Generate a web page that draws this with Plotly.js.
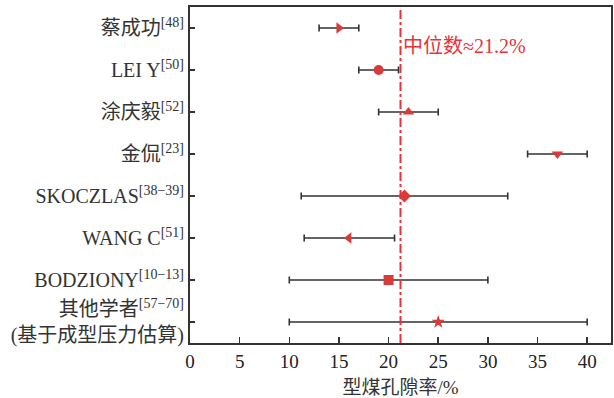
<!DOCTYPE html>
<html>
<head>
<meta charset="utf-8">
<script src="https://cdn.plot.ly/plotly-3.0.1.min.js"></script>
<style>
  html, body { margin: 0; padding: 0; background: #fff; }
  #chart { width: 614px; height: 398px; }
</style>
</head>
<body>
<div id="chart"></div>
<script>
// Study labels (top to bottom)
const studies = [
  '蔡成功<sup>[48]</sup>',
  'LEI Y<sup>[50]</sup>',
  '涂庆毅<sup>[52]</sup>',
  '金侃<sup>[23]</sup>',
  'SKOCZLAS<sup>[38−39]</sup>',
  'WANG C<sup>[51]</sup>',
  'BODZIONY<sup>[10−13]</sup>',
  '其他学者<sup>[57−70]</sup><br>(基于成型压力估算)'
];
// Representative porosity (%) and reported range
const porosity = [15, 19, 22, 37, 21.6, 16, 20, 25];
const rangeLow = [13, 17, 19, 34, 11.2, 11.5, 10, 10];
const rangeHigh = [17, 21, 25, 40, 32, 20.6, 30, 40];
const symbols = ['triangle-right', 'circle', 'triangle-up', 'triangle-down',
                 'diamond', 'triangle-left', 'square', 'star'];
const median = 21.2;
const xTicks = [0, 5, 10, 15, 20, 25, 30, 35, 40];

const rows = studies.map((_, i) => i);
const errPlus = porosity.map((v, i) => rangeHigh[i] - v);
const errMinus = porosity.map((v, i) => v - rangeLow[i]);

const FONT = '"Liberation Serif", "Times New Roman", "Noto Sans CJK SC", serif';
const RED = '#d93a3a';

const trace = {
  type: 'scatter',
  mode: 'markers',
  x: porosity,
  y: rows,
  marker: { symbol: symbols, size: 10, color: RED, line: { width: 0 } },
  error_x: {
    type: 'data', symmetric: false,
    array: errPlus, arrayminus: errMinus,
    color: '#333333', thickness: 1.6, width: 3.5
  },
  hoverinfo: 'x+y'
};

const layout = {
  width: 614, height: 398,
  margin: { l: 190, r: 3, t: 7, b: 55 },
  paper_bgcolor: '#ffffff', plot_bgcolor: '#ffffff',
  font: { family: FONT, color: '#333333', size: 18 },
  showlegend: false,
  xaxis: {
    range: [0, 42.4],
    tickvals: xTicks,
    ticktext: xTicks.map(String),
    ticks: 'inside', ticklen: 6, tickwidth: 1.5, tickcolor: '#333',
    showline: true, linecolor: '#333', linewidth: 2, mirror: true,
    showgrid: false, zeroline: false,
    tickfont: { size: 19, family: FONT, color: '#222' },
    title: { text: '型煤孔隙率/%', font: { size: 19, family: FONT, color: '#333' }, standoff: 10 }
  },
  yaxis: {
    range: [7.5, -0.5],
    tickvals: rows,
    ticktext: studies,
    ticks: 'inside', ticklen: 5, tickwidth: 1.5, tickcolor: '#333',
    showline: true, linecolor: '#333', linewidth: 2, mirror: true,
    showgrid: false, zeroline: false,
    tickfont: { size: 20, family: FONT, color: '#333' }
  },
  shapes: [{
    type: 'line', xref: 'x', yref: 'paper',
    x0: median, x1: median, y0: 0, y1: 1,
    line: { color: '#e8333a', width: 2, dash: 'dashdot' }
  }],
  annotations: [{
    xref: 'x', yref: 'paper', x: median, y: 0.885,
    xanchor: 'left', yanchor: 'middle', xshift: 0,
    text: '中位数≈' + median + '%', showarrow: false,
    font: { size: 20, family: FONT, color: '#e8333a' }
  }]
};

Plotly.newPlot('chart', [trace], layout, { displayModeBar: false, staticPlot: true });
</script>
</body>
</html>
